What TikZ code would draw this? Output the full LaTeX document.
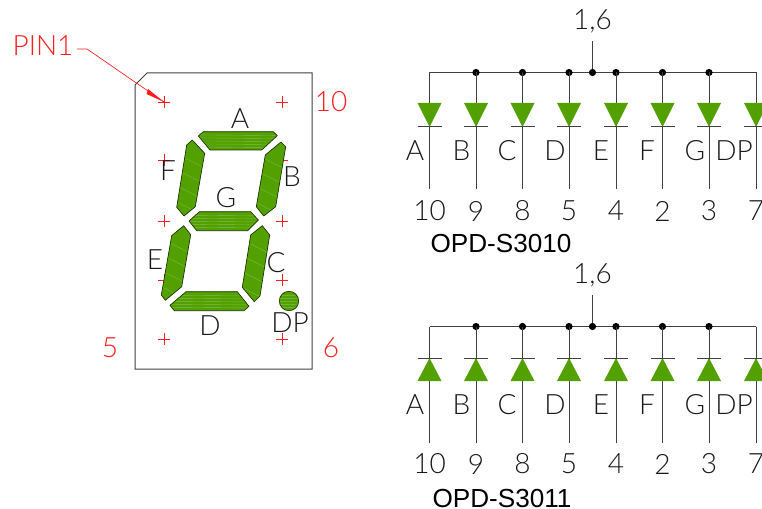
\documentclass[tikz,border=0pt]{standalone}
\usepackage{fontspec}
\setmainfont{Liberation Sans}
\newfontfamily\cad{Lato Light}
\definecolor{segg}{RGB}{83,161,0}
\definecolor{segl}{RGB}{125,190,70}
\definecolor{redc}{RGB}{255,30,30}
\usetikzlibrary{calc}
\begin{document}
\begin{tikzpicture}[x=0.75pt,y=-0.75pt,
 seg/.style={fill=segg,draw=black!70!segg,line width=0.5pt,line join=round},
 hseg/.style={seg,path picture={\foreach \d in {-6,-3,0,3,6}
   \draw[segl,line width=0.3pt] ($(path picture bounding box.center)+(-45,\d)$) -- ++(90,0.8);}},
 vseg/.style={seg,path picture={\foreach \d in {-24,-8,8,24}
   \draw[segl,line width=0.3pt] ($(path picture bounding box.center)+(-14,\d)$) -- ++(28,14);}},
 wire/.style={draw=black!75,line width=0.75pt},
 redt/.style={text=redc,font=\cad\fontsize{21}{21}\selectfont,inner sep=0},
 blk/.style={text=black!90,font=\cad\fontsize{21}{21}\selectfont,inner sep=0},
 title/.style={text=black,font=\fontsize{19.6}{20}\selectfont,inner sep=0},
 dot/.style={circle,fill=black,inner sep=0,minimum size=5.4pt},
 rc/.style={draw=redc,line width=0.5pt}]
\useasboundingbox (0,0) rectangle (762,509);
\clip (0,0) rectangle (762,509);
% housing
\draw[wire] (135,85) -- (147,73) -- (312,73) -- (312,369) -- (135,369) -- cycle;
% crosses
\foreach \n/\x/\y in {a/164/102,b/282/102,c/164/160,d/282/160,e/164/221,f/282/221,g/164/280,h/282/280,i/164/339,j/282/339}
  \draw[rc] (\x-6,\y) -- (\x+6,\y) (\x,\y-6) -- (\x,\y+6);
% segments
\path[hseg] (198.3,136) -- (203.3,131.7) -- (273.3,131.7) -- (277.3,135.7) -- (261.7,150) -- (210,150) -- cycle;
\path[hseg] (189,221) -- (199.3,211.7) -- (250.7,211.7) -- (258.3,220) -- (247.7,230.7) -- (196.7,230.7) -- cycle;
\path[hseg] (170,305.3) -- (186,291.7) -- (237.3,291.7) -- (249,306.3) -- (244,310.7) -- (174.3,310.7) -- cycle;
\path[vseg] (186.7,145) -- (192.3,140) -- (204.7,153.3) -- (195.3,206.7) -- (184,216) -- (176.7,207.3) -- cycle;
\path[vseg] (265.3,155) -- (281,142) -- (285.7,146.7) -- (275.7,206.7) -- (263.7,216) -- (256.3,206.7) -- cycle;
\path[vseg] (171.7,235.7) -- (183.7,225.7) -- (190.7,234.7) -- (181.7,286.7) -- (165.3,300.3) -- (161.3,295) -- cycle;
\path[vseg] (250.7,235) -- (262.3,225.7) -- (269.7,235) -- (260,296) -- (254.3,301.7) -- (242.3,287.3) -- cycle;
\path[hseg] (289,301) circle (9.7);
% red labels
\node[redt] (pin) at (43,46) {PIN1};
\coordinate (pina) at (77,49);
\coordinate (pinb) at (87,49);
\coordinate (pinc) at (164,102);
\draw[rc] (pina) -- (pinb) -- (pinc);
\fill[redc] (164,102) -- (148,89) -- (146.5,94) -- cycle;
\node[redt] (t10) at (331,102) {10};
\node[redt] (t5) at (110,348) {5};
\node[redt] (t6) at (331,348) {6};
% black labels
\node[blk] (la) at (240,119) {A};
\node[blk] (lf) at (168,171) {F};
\node[blk] (lb) at (292,177) {B};
\node[blk] (lg) at (226,198) {G};
\node[blk] (le) at (155,260) {E};
\node[blk] (lc) at (276,263) {C};
\node[blk] (ld) at (210,326) {D};
\node[blk] (ldp) at (290,323) {DP};
% diode columns
\foreach \S/\bus/\tt/\tb/\tip/\base/\bar/\wb/\ly/\ny/\cy/\st in {
   u/72.5/103/127/127/103/127/189/151/211/21/41,
   v/326.5/358/381/358/381/358/443/405/464/275/295}{
  \coordinate (\S bl) at (429.5,\bus);
  \coordinate (\S br) at (756,\bus);
  \draw[wire] (\S bl) -- (\S br);
  \node[blk] (\S cl) at (592.5,\cy) {1,6};
  \node[dot] (\S cd) at (592.5,\bus) {};
  \coordinate (\S ct) at (592.5,\st);
  \draw[wire] (\S ct) -- (\S cd);
  \foreach \k/\x/\lab/\num/\lx in {1/429.5/A/10/415,2/476/B/9/461.5,3/522.5/C/8/507,4/569/D/5/555,5/616/E/4/601,6/662.5/F/2/647,7/709/G/3/695,8/756/DP/7/734}{
    \coordinate (\S t\k) at (\x,\bus);
    \coordinate (\S e\k) at (\x,\wb);
    \ifnum\k>1 \ifnum\k<8 \node[dot] at (\x,\bus) {}; \fi\fi
    \draw[wire] (\S t\k) -- (\S e\k);
    \fill[segg] (\x-12,\base) -- (\x+12,\base) -- (\x,\tip) -- cycle;
    \draw[wire] (\x-12,\bar) -- (\x+12,\bar);
    \node[blk] at (\lx,\ly) {\lab};
    \node[blk] at (\x,\ny) {\num};
  }
}
\node[title,anchor=center] (t1) at (501,244) {OPD-S3010};
\node[title,anchor=center] (t2) at (502,498) {OPD-S3011};
\end{tikzpicture}
\end{document}
